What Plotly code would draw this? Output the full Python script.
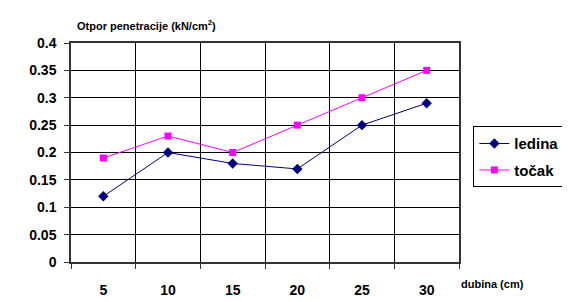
import plotly.graph_objects as go

categories = ["5", "10", "15", "20", "25", "30"]
ledina = [0.12, 0.20, 0.18, 0.17, 0.25, 0.29]
tocak = [0.19, 0.23, 0.20, 0.25, 0.30, 0.35]
y_ticks = [0, 0.05, 0.1, 0.15, 0.2, 0.25, 0.3, 0.35, 0.4]
y_ticktext = ["0", "0.05", "0.1", "0.15", "0.2", "0.25", "0.3", "0.35", "0.4"]

xpos = list(range(1, len(categories) + 1))

fig = go.Figure()
fig.add_trace(go.Scatter(x=xpos, y=ledina, name="<b>ledina</b>", mode="lines+markers",
                         legendgroup="a",
                         line=dict(color="#000080", width=1),
                         marker=dict(symbol="diamond", size=8, color="#000080")))
fig.add_trace(go.Scatter(x=xpos, y=tocak, name="<b>točak</b>", mode="lines+markers",
                         legendgroup="b",
                         line=dict(color="#FF00FF", width=1),
                         marker=dict(symbol="square", size=7, color="#FF00FF")))

font_family = "Liberation Sans, Arial, sans-serif"

fig.update_layout(
    width=570, height=302,
    margin=dict(l=63, r=119, t=35, b=33),
    paper_bgcolor="white", plot_bgcolor="white",
    font=dict(family=font_family, color="black"),
    showlegend=True,
    legend=dict(x=1.037, y=0.62, xanchor="left", yanchor="top",
                bordercolor="black", borderwidth=1,
                font=dict(size=15, family=font_family),
                tracegroupgap=4, itemwidth=30),
    xaxis=dict(range=[0.5, 6.5], tickvals=xpos,
               ticktext=["<b>%s</b>" % c for c in categories],
               showgrid=False, ticks="", zeroline=False,
               showline=True, linecolor="#333333", linewidth=1.5, mirror=True,
               tickfont=dict(size=14, family=font_family),
               ticklabelstandoff=14,
               minor=dict(tick0=0.5, dtick=1, showgrid=True, gridcolor="black",
                          gridwidth=1, ticks="outside", ticklen=5,
                          tickcolor="#333333", tickwidth=1)),
    yaxis=dict(range=[0, 0.4], tickvals=y_ticks,
               ticktext=["<b>%s</b>" % t for t in y_ticktext],
               showgrid=True, gridcolor="black", gridwidth=1,
               ticks="outside", ticklen=5, tickcolor="#333333",
               zeroline=False, showline=True, linecolor="#333333",
               linewidth=1.5, mirror=True, ticklabelstandoff=5,
               tickfont=dict(size=14, family=font_family)),
    annotations=[
        dict(text="<b>Otpor penetracije (kN/cm<sup>2</sup>)</b>", xref="paper", yref="paper",
             x=0, y=1, xanchor="left", yanchor="middle", xshift=4, yshift=18,
             showarrow=False, font=dict(size=11, family=font_family)),
        dict(text="<b>dubina (cm)</b>", xref="paper", yref="paper",
             x=1, y=0, xanchor="left", yanchor="middle", xshift=0, yshift=-22,
             showarrow=False, font=dict(size=11, family=font_family)),
    ],
)

fig.write_html("out.html")
